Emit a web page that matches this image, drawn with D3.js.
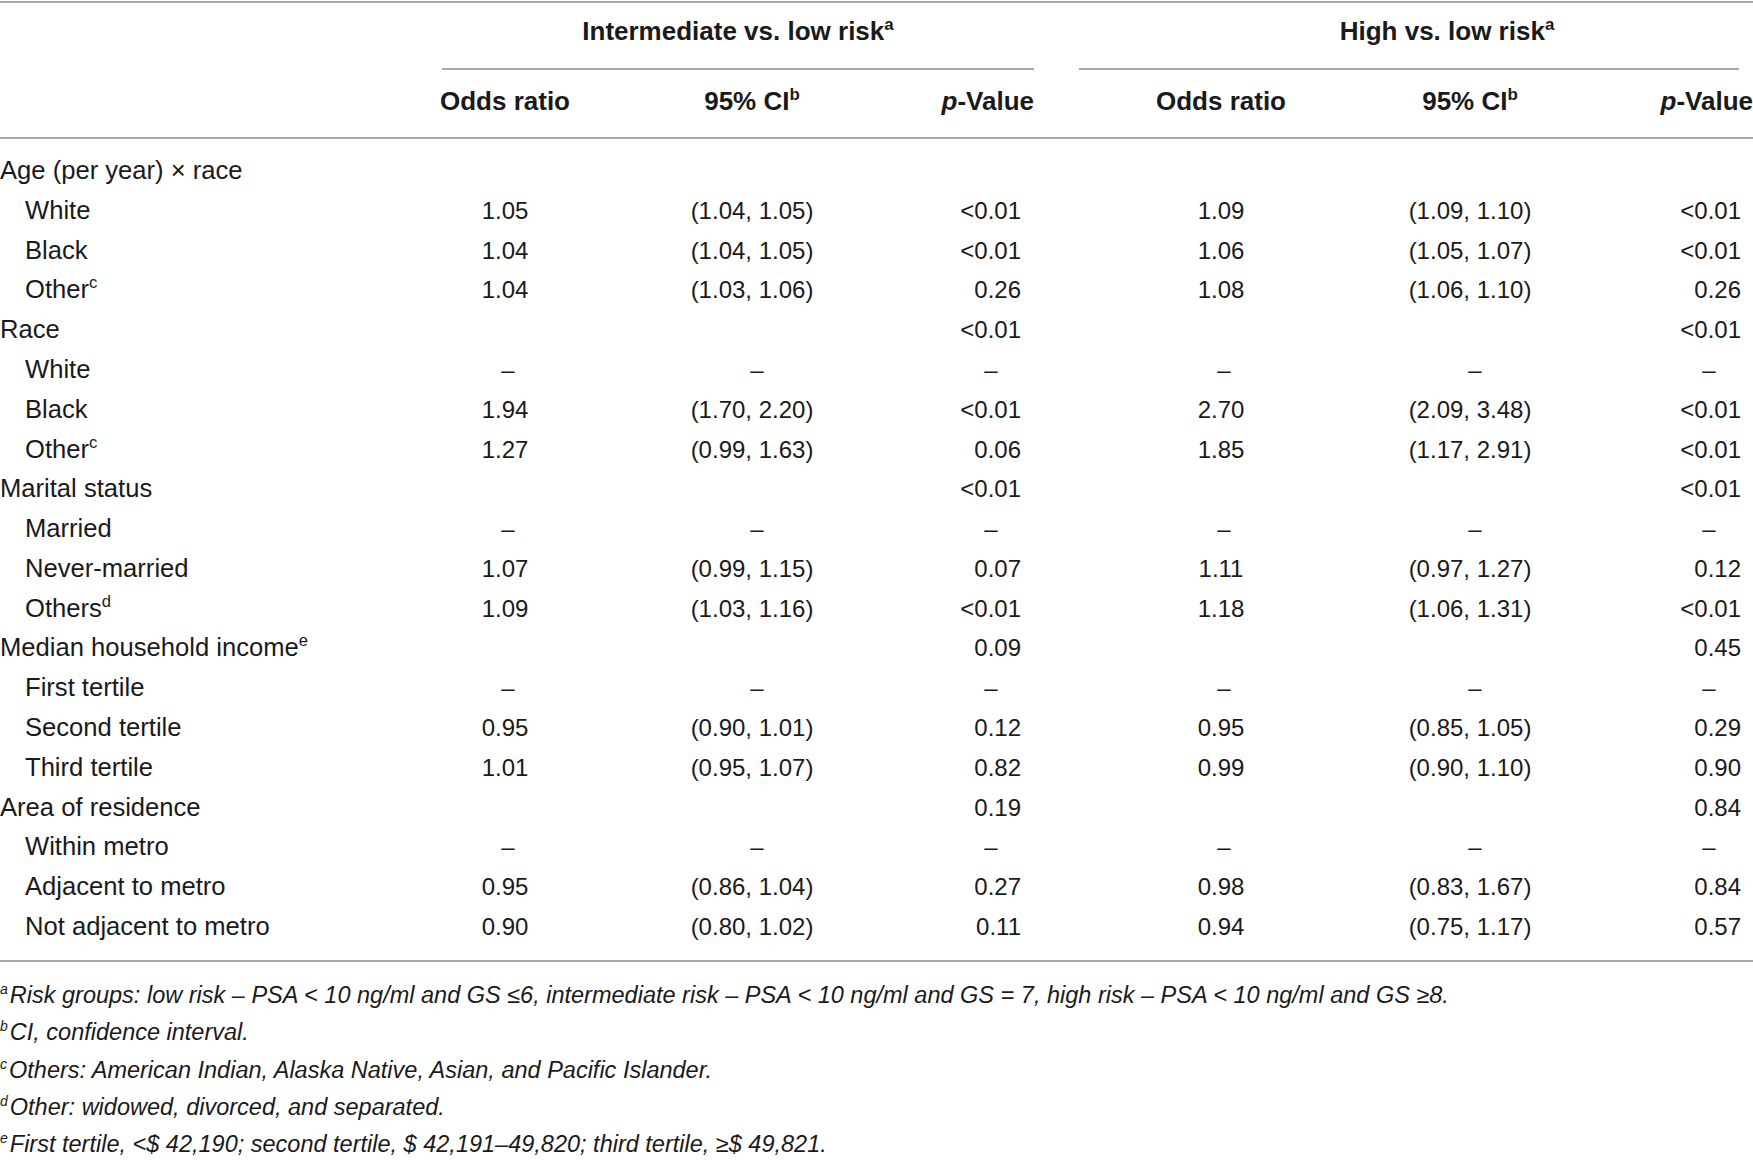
<!DOCTYPE html>
<html><head><meta charset="utf-8">
<script src="https://cdn.jsdelivr.net/npm/d3@7"></script>
<style>
html,body{margin:0;padding:0;background:#fff;}
svg text{font-family:"Liberation Sans",Arial,Helvetica,sans-serif;fill:#1a1a1a;}
</style></head>
<body>
<svg id="chart" width="1753" height="1160"></svg>
<script>
// ---------- data ----------
const groupTitles = ["Intermediate vs. low risk", "High vs. low risk"];
const groupTitleSup = ["a", "a"];
const columnHeaders = ["Odds ratio", "95% CI", "p-Value", "Odds ratio", "95% CI", "p-Value"];
const columnHeaderSup = ["", "b", "", "", "b", ""];
const rowLabels = ["Age (per year) × race", "White", "Black", "Other", "Race", "White", "Black", "Other",
  "Marital status", "Married", "Never-married", "Others", "Median household income", "First tertile",
  "Second tertile", "Third tertile", "Area of residence", "Within metro", "Adjacent to metro", "Not adjacent to metro"];
const rowLevels = [0,1,1,1,0,1,1,1,0,1,1,1,0,1,1,1,0,1,1,1];
const rowSup = ["","","","c","","","","c","","","","d","e","","","","","","",""];
// value arrays start at the second row (the first row is a heading with no values)
const oddsInt = ["1.05","1.04","1.04","","–","1.94","1.27","","–","1.07","1.09","","–","0.95","1.01","","–","0.95","0.90"];
const ciInt = ["(1.04, 1.05)","(1.04, 1.05)","(1.03, 1.06)","","–","(1.70, 2.20)","(0.99, 1.63)","","–","(0.99, 1.15)","(1.03, 1.16)","","–","(0.90, 1.01)","(0.95, 1.07)","","–","(0.86, 1.04)","(0.80, 1.02)"];
const pInt = ["<0.01","<0.01","0.26","<0.01","–","<0.01","0.06","<0.01","–","0.07","<0.01","0.09","–","0.12","0.82","0.19","–","0.27","0.11"];
const oddsHigh = ["1.09","1.06","1.08","","–","2.70","1.85","","–","1.11","1.18","","–","0.95","0.99","","–","0.98","0.94"];
const ciHigh = ["(1.09, 1.10)","(1.05, 1.07)","(1.06, 1.10)","","–","(2.09, 3.48)","(1.17, 2.91)","","–","(0.97, 1.27)","(1.06, 1.31)","","–","(0.85, 1.05)","(0.90, 1.10)","","–","(0.83, 1.67)","(0.75, 1.17)"];
const pHigh = ["<0.01","<0.01","0.26","<0.01","–","<0.01","<0.01","<0.01","–","0.12","<0.01","0.45","–","0.29","0.90","0.84","–","0.84","0.57"];
const footnoteMarks = ["a","b","c","d","e"];
const footnotes = [
  "Risk groups: low risk – PSA < 10 ng/ml and GS ≤6, intermediate risk – PSA < 10 ng/ml and GS = 7, high risk – PSA < 10 ng/ml and GS ≥8.",
  "CI, confidence interval.",
  "Others: American Indian, Alaska Native, Asian, and Pacific Islander.",
  "Other: widowed, divorced, and separated.",
  "First tertile, <$ 42,190; second tertile, $ 42,191–49,820; third tertile, ≥$ 49,821."
];

// ---------- layout ----------
const svg = d3.select("#chart");
const FS = 24;      // values
const FL = 25.6;    // row labels
const FH = 26;      // bold headers
const lineColor = "#a8a8a8";

const valueCols = [oddsInt, ciInt, pInt, oddsHigh, ciHigh, pHigh];
const colX = d3.scaleOrdinal().domain(d3.range(6)).range([505, 752, 1021, 1221, 1470, 1741]);
const dashX = d3.scaleOrdinal().domain(d3.range(6)).range([508, 757, 991, 1224, 1475, 1709]);
const colAnchor = ["middle","middle","end","middle","middle","end"];
const headX = d3.scaleOrdinal().domain(d3.range(6)).range([505, 752, 1034, 1221, 1470, 1753]);

const rowY = d3.scalePoint().domain(d3.range(rowLabels.length)).range([170, 926]);
const indentX = d3.scaleOrdinal().domain([0,1]).range([0, 25]);

// rules
const hRules = [
  {x1:0, x2:1753, y:2},
  {x1:442, x2:1034, y:69},
  {x1:1079, x2:1739, y:69},
  {x1:0, x2:1753, y:138},
  {x1:0, x2:1753, y:961}
];
svg.selectAll("line.rule").data(hRules).join("line")
  .attr("class","rule")
  .attr("x1", d=>d.x1).attr("x2", d=>d.x2).attr("y1", d=>d.y).attr("y2", d=>d.y)
  .attr("stroke", lineColor).attr("stroke-width", 2);

// group titles
const groupX = d3.scaleOrdinal().domain([0,1]).range([738, 1447]);
const gt = svg.selectAll("text.gtitle").data(groupTitles).join("text")
  .attr("class","gtitle")
  .attr("x", (d,i)=>groupX(i)).attr("y", 40)
  .attr("text-anchor","middle").attr("font-size", FH).attr("font-weight","bold");
gt.append("tspan").text(d=>d);
gt.append("tspan").text((d,i)=>groupTitleSup[i]).attr("font-size", FH*0.65).attr("dy", -10);

// column headers
const ch = svg.selectAll("text.chead").data(columnHeaders).join("text")
  .attr("class","chead")
  .attr("x", (d,i)=>headX(i)).attr("y", 110)
  .attr("text-anchor", (d,i)=> i%3===2 ? "end" : "middle")
  .attr("font-size", FH).attr("font-weight","bold");
ch.each(function(d,i){
  const t = d3.select(this);
  if (d.startsWith("p-")) {
    t.append("tspan").text("p").attr("font-style","italic");
    t.append("tspan").text(d.slice(1));
  } else {
    t.append("tspan").text(d);
  }
  if (columnHeaderSup[i]) t.append("tspan").text(columnHeaderSup[i]).attr("font-size", FH*0.65).attr("dy", -10);
});

// row labels
const rl = svg.selectAll("text.rlabel").data(rowLabels).join("text")
  .attr("class","rlabel")
  .attr("x", (d,i)=>indentX(rowLevels[i])).attr("y", (d,i)=>rowY(i)+9)
  .attr("font-size", FL);
rl.append("tspan").text(d=>d);
rl.each(function(d,i){
  if (rowSup[i]) d3.select(this).append("tspan").text(rowSup[i])
    .attr("font-size", FL*0.65).attr("dy", -10);
});

// values
valueCols.forEach((arr, c) => {
  svg.selectAll("text.v"+c).data(arr).join("text")
    .attr("class","v"+c)
    .attr("x", d => d === "–" ? dashX(c) : colX(c))
    .attr("y", (d,i)=>rowY(i+1)+9)
    .attr("text-anchor", d => d === "–" ? "middle" : colAnchor[c])
    .attr("font-size", FS)
    .text(d=>d);
});

// footnotes
const fnY = d3.scalePoint().domain(d3.range(footnotes.length)).range([995, 1144]);
const fn = svg.selectAll("text.fn").data(footnotes).join("text")
  .attr("class","fn")
  .attr("x", 0).attr("y", (d,i)=>fnY(i)+8)
  .attr("font-size", 23.5).attr("font-style","italic");
fn.append("tspan").text((d,i)=>footnoteMarks[i]).attr("font-size", 14).attr("dy", -9);
fn.append("tspan").text(d=>d).attr("dy", 9).attr("dx", 2);
</script>
</body></html>
